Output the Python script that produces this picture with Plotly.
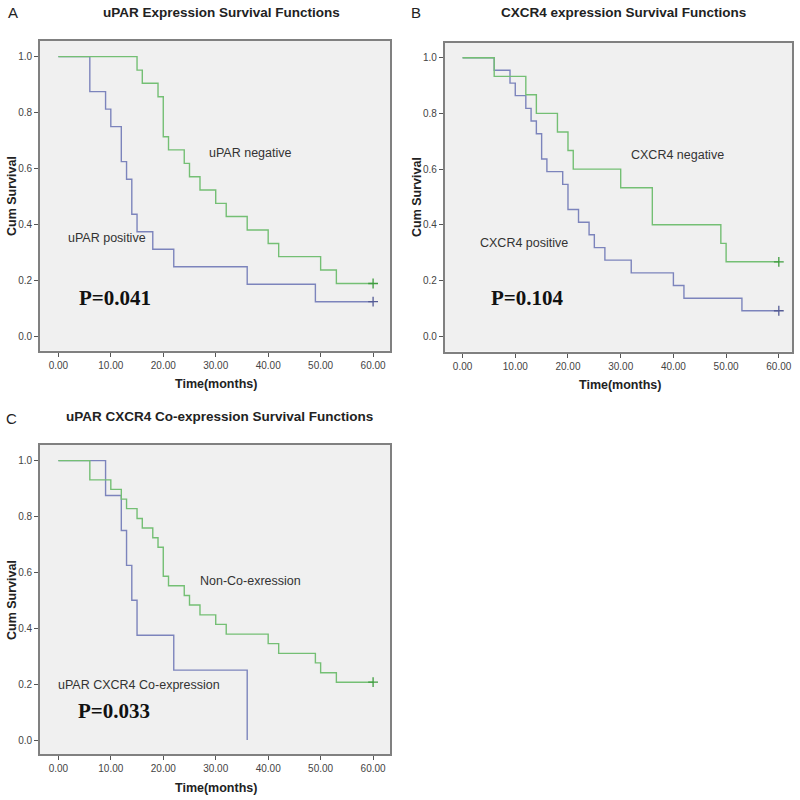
import plotly.graph_objects as go

# panel A - uPAR
a_pos_t = [0, 6, 9, 10, 12, 13, 14, 15, 18, 22, 36, 49, 60]
a_pos_s = [1, 0.875, 0.8125, 0.75, 0.625, 0.5625, 0.4375, 0.375, 0.3125, 0.25, 0.1875, 0.125, 0.125]
a_neg_t = [0, 15, 16, 19, 20, 21, 24, 25, 27, 30, 32, 36, 40, 42, 50, 53, 60]
a_neg_s = [1, 0.952, 0.905, 0.857, 0.714, 0.667, 0.619, 0.571, 0.524, 0.476, 0.429, 0.381,
           0.333, 0.286, 0.238, 0.190, 0.190]

# panel B - CXCR4
b_pos_t = [0, 6, 9, 10, 12, 13, 14, 15, 16, 19, 20, 22, 24, 25, 27, 32, 40, 42, 53, 60]
b_pos_s = [1, 0.955, 0.909, 0.864, 0.818, 0.773, 0.727, 0.636, 0.591, 0.545, 0.455, 0.409,
           0.364, 0.318, 0.273, 0.227, 0.182, 0.136, 0.091, 0.091]
b_neg_t = [0, 6, 12, 14, 18, 20, 21, 30, 36, 49, 50, 60]
b_neg_s = [1, 0.933, 0.867, 0.8, 0.733, 0.667, 0.6, 0.533, 0.4, 0.333, 0.267, 0.267]

# panel C - co-expression
c_co_t = [0, 9, 12, 13, 14, 15, 22, 36]
c_co_s = [1, 0.875, 0.75, 0.625, 0.5, 0.375, 0.25, 0.0]
c_non_t = [0, 6, 10, 12, 13, 15, 16, 18, 19, 20, 21, 24, 25, 27, 30, 32, 40, 42, 49, 50, 53, 60]
c_non_s = [1, 0.931, 0.897, 0.862, 0.828, 0.793, 0.759, 0.724, 0.690, 0.586, 0.552, 0.517,
           0.483, 0.448, 0.414, 0.379, 0.345, 0.310, 0.276, 0.241, 0.207, 0.207]

x_ticks = [0, 10, 20, 30, 40, 50, 60]
y_ticks = [0, 0.2, 0.4, 0.6, 0.8, 1.0]

BLUE = "#7c84bc"
GREEN = "#74bf74"
BLUE_M = "#555c96"
GREEN_M = "#3f9d3f"
SANS = "Liberation Sans, Arial, sans-serif"
SERIF = "Liberation Serif, Times New Roman, serif"

fig = go.Figure()


def add_curve(t, s, color, mcolor, xa, ya, censor=True):
    fig.add_trace(go.Scatter(x=t, y=s, mode="lines", line=dict(color=color, width=1.4, shape="hv"),
                             xaxis=xa, yaxis=ya, showlegend=False, hoverinfo="skip"))
    if censor:
        fig.add_trace(go.Scatter(x=[t[-1]], y=[s[-1]], mode="markers",
                                 marker=dict(symbol="cross-thin", size=7, line=dict(color=mcolor, width=1.3)),
                                 xaxis=xa, yaxis=ya, showlegend=False, hoverinfo="skip"))


add_curve(a_pos_t, a_pos_s, BLUE, BLUE_M, "x", "y")
add_curve(a_neg_t, a_neg_s, GREEN, GREEN_M, "x", "y")
add_curve(b_pos_t, b_pos_s, BLUE, BLUE_M, "x2", "y2")
add_curve(b_neg_t, b_neg_s, GREEN, GREEN_M, "x2", "y2")
add_curve(c_co_t, c_co_s, BLUE, BLUE_M, "x3", "y3", censor=False)
add_curve(c_non_t, c_non_s, GREEN, GREEN_M, "x3", "y3")

ax_common = dict(showline=True, mirror=True, linecolor="#808080", linewidth=1.7,
                 ticks="outside", ticklen=4, tickwidth=1, tickcolor="#555",
                 showgrid=False, zeroline=False,
                 tickfont=dict(family=SANS, size=10, color="#444"))

fig.update_layout(
    width=800, height=800, margin=dict(l=0, r=0, t=0, b=0),
    paper_bgcolor="white", plot_bgcolor="#f0f0f0",
    xaxis=dict(domain=[0.05, 0.488], anchor="y", range=[-3.5, 63.3], tickvals=x_ticks,
               tickformat=".2f", **ax_common),
    yaxis=dict(domain=[0.5616, 0.9488], anchor="x", range=[-0.05, 1.056], tickvals=y_ticks,
               tickformat=".1f", **ax_common),
    xaxis2=dict(domain=[0.556, 0.990], anchor="y2", range=[-3.37, 62.5], tickvals=x_ticks,
                tickformat=".2f", **ax_common),
    yaxis2=dict(domain=[0.5604, 0.9466], anchor="x2", range=[-0.056, 1.054], tickvals=y_ticks,
                tickformat=".1f", **ax_common),
    xaxis3=dict(domain=[0.05, 0.488], anchor="y3", range=[-3.5, 63.3], tickvals=x_ticks,
                tickformat=".2f", **ax_common),
    yaxis3=dict(domain=[0.0575, 0.4438], anchor="x3", range=[-0.05, 1.056], tickvals=y_ticks,
                tickformat=".1f", **ax_common),
)

ann = []


def paper_text(x, y, text, size, bold=False, angle=0, family=SANS, color="#222"):
    ann.append(dict(x=x / 800, y=1 - y / 800, xref="paper", yref="paper", text=text,
                    showarrow=False, textangle=angle, xanchor="center", yanchor="middle",
                    font=dict(family=family, size=size, color=color)))


def data_text(xa, ya, x, y, text, size=12.5, family=SANS, color="#333"):
    ann.append(dict(x=x, y=y, xref=xa, yref=ya, text=text, showarrow=False,
                    xanchor="left", yanchor="middle", font=dict(family=family, size=size, color=color)))


# panel letters and titles
paper_text(13, 13, "A", 15)
paper_text(416, 13, "B", 15)
paper_text(11, 418, "C", 15)
paper_text(221, 12, "<b>uPAR Expression Survival Functions</b>", 13.5)
paper_text(623, 13, "<b>CXCR4 expression Survival Functions</b>", 13.5)
paper_text(219, 416, "<b>uPAR CXCR4 Co-expression Survival Functions</b>", 13.5)

# axis titles
paper_text(216, 384, "<b>Time(months)</b>", 12.5)
paper_text(620, 385, "<b>Time(months)</b>", 12.5)
paper_text(216, 788, "<b>Time(months)</b>", 12.5)
paper_text(12, 196, "<b>Cum Survival</b>", 12.5, angle=-90)
paper_text(417, 197, "<b>Cum Survival</b>", 12.5, angle=-90)
paper_text(12, 600, "<b>Cum Survival</b>", 12.5, angle=-90)

# curve labels and p-values
data_text("x", "y", 28.3, 0.656, "uPAR negative")
data_text("x", "y", 1.5, 0.354, "uPAR positive")
data_text("x", "y", 3.6, 0.137, "<b>P=0.041</b>", size=21, family=SERIF, color="#111")
data_text("x2", "y2", 31.5, 0.65, "CXCR4 negative")
data_text("x2", "y2", 3.0, 0.333, "CXCR4 positive")
data_text("x2", "y2", 5.0, 0.136, "<b>P=0.104</b>", size=21, family=SERIF, color="#111")
data_text("x3", "y3", 26.6, 0.569, "Non-Co-exression")
data_text("x3", "y3", -0.5, 0.197, "uPAR CXCR4 Co-expression")
data_text("x3", "y3", 3.4, 0.104, "<b>P=0.033</b>", size=21, family=SERIF, color="#111")

fig.update_layout(annotations=ann)

# drop the page's default body margin so the 800x800 figure fills the window
fig.write_html("out.html", config={"displayModeBar": False},
               post_script="document.body.style.margin='0';")
